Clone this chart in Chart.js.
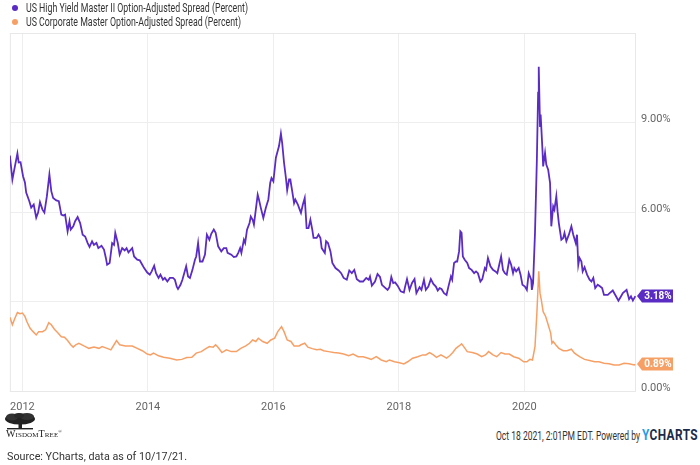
<!DOCTYPE html>
<html>
<head>
<meta charset="utf-8">
<script src="https://cdn.jsdelivr.net/npm/chart.js@4/dist/chart.umd.min.js"></script>
<style>
  body { margin: 0; background: #fff; }
  #wrap { position: relative; width: 700px; height: 465px; font-family: Roboto, sans-serif; }
  #chart { position: absolute; left: 0; top: 0; }
  .leg { position: absolute; left: 26px; font-size: 12px; color: #333; white-space: nowrap; line-height: 14px; transform-origin: left center; }
  .dot { position: absolute; left: 12px; width: 6px; height: 6px; border-radius: 50%; }
  .foot { position: absolute; white-space: nowrap; color: #333; }
</style>
</head>
<body>
<div id="wrap">
  <canvas id="chart" width="700" height="418"></canvas>
  <div class="dot" style="top:5px;background:#5b2cc4"></div>
  <div class="leg fit" data-w="222" style="top:1px">US High Yield Master II Option-Adjusted Spread (Percent)</div>
  <div class="dot" style="top:19px;background:#f7a066"></div>
  <div class="leg fit" data-w="215" style="top:15px">US Corporate Master Option-Adjusted Spread (Percent)</div>

  <svg class="foot" style="left:4px;top:413px" width="32" height="17" viewBox="0 0 32 17">
    <ellipse cx="16" cy="6" rx="15" ry="5.5" fill="#222"/>
    <ellipse cx="8" cy="4" rx="6" ry="3.5" fill="#333"/>
    <ellipse cx="23" cy="3.5" rx="7" ry="3.5" fill="#333"/>
    <ellipse cx="15" cy="2.5" rx="5" ry="2.5" fill="#2a2a2a"/>
    <rect x="14.5" y="8" width="3.5" height="7" fill="#222"/>
    <rect x="3" y="15" width="26" height="1.4" fill="#222"/>
  </svg>
  <div class="foot" style="left:6px;top:428px;font-family:'Liberation Serif',serif;font-size:10px;font-variant:small-caps;letter-spacing:0.1px;color:#222">WisdomTree<sup style="font-size:5px">®</sup></div>
  <div class="foot fit" data-w="144" style="left:496px;top:429px;font-size:12px;transform-origin:left center">Oct 18 2021, 2:01PM EDT. Powered by</div>
  <div class="foot fit" data-w="56" style="left:642px;top:426px;font-size:15px;font-weight:bold;letter-spacing:0.5px;color:#1b2a4a;transform-origin:left center"><span style="color:#1ea0e6">Y</span>CHARTS</div>
  <div class="foot fit" data-w="180" style="left:7px;top:450px;font-size:11px;transform-origin:left center">Source: YCharts, data as of 10/17/21.</div>
</div>

<script>
// US High Yield Master II OAS (percent)
const hyYears = [
  2011.80, 2011.84, 2011.88, 2011.92, 2011.94, 2011.97, 2012.01, 2012.04, 2012.06, 2012.11,
  2012.14, 2012.18, 2012.22, 2012.25, 2012.28, 2012.32, 2012.35, 2012.39, 2012.43, 2012.46,
  2012.49, 2012.54, 2012.58, 2012.62, 2012.65, 2012.68, 2012.72, 2012.75, 2012.77, 2012.81,
  2012.84, 2012.88, 2012.92, 2012.96, 2013.00, 2013.04, 2013.07, 2013.11, 2013.14, 2013.18,
  2013.21, 2013.26, 2013.30, 2013.33, 2013.35, 2013.39, 2013.43, 2013.46, 2013.48, 2013.52,
  2013.55, 2013.59, 2013.63, 2013.66, 2013.69, 2013.75, 2013.78, 2013.83, 2013.87, 2013.91,
  2013.94, 2013.99, 2014.03, 2014.06, 2014.10, 2014.13, 2014.17, 2014.20, 2014.24, 2014.27,
  2014.31, 2014.35, 2014.40, 2014.43, 2014.46, 2014.48, 2014.52, 2014.55, 2014.61, 2014.64,
  2014.67, 2014.71, 2014.75, 2014.77, 2014.80, 2014.83, 2014.87, 2014.91, 2014.94, 2014.98,
  2015.01, 2015.05, 2015.08, 2015.12, 2015.17, 2015.21, 2015.25, 2015.27, 2015.33, 2015.37,
  2015.41, 2015.44, 2015.47, 2015.49, 2015.53, 2015.55, 2015.58, 2015.62, 2015.64, 2015.67,
  2015.69, 2015.72, 2015.75, 2015.77, 2015.80, 2015.84, 2015.88, 2015.92, 2015.95, 2015.97,
  2016.00, 2016.04, 2016.06, 2016.09, 2016.12, 2016.14, 2016.17, 2016.20, 2016.22, 2016.25,
  2016.27, 2016.30, 2016.33, 2016.35, 2016.39, 2016.42, 2016.44, 2016.47, 2016.50, 2016.53,
  2016.56, 2016.59, 2016.62, 2016.64, 2016.69, 2016.72, 2016.75, 2016.77, 2016.82, 2016.84,
  2016.87, 2016.91, 2016.94, 2016.99, 2017.04, 2017.08, 2017.12, 2017.17, 2017.21, 2017.25,
  2017.29, 2017.33, 2017.38, 2017.43, 2017.48, 2017.52, 2017.54, 2017.57, 2017.62, 2017.66,
  2017.70, 2017.73, 2017.77, 2017.82, 2017.85, 2017.88, 2017.91, 2017.94, 2017.98, 2018.03,
  2018.08, 2018.10, 2018.13, 2018.17, 2018.21, 2018.25, 2018.28, 2018.33, 2018.36, 2018.40,
  2018.43, 2018.47, 2018.51, 2018.55, 2018.59, 2018.62, 2018.65, 2018.68, 2018.72, 2018.76,
  2018.79, 2018.83, 2018.85, 2018.88, 2018.91, 2018.93, 2018.96, 2018.98, 2019.00, 2019.02,
  2019.05, 2019.09, 2019.12, 2019.16, 2019.20, 2019.23, 2019.26, 2019.30, 2019.33, 2019.37,
  2019.39, 2019.42, 2019.46, 2019.50, 2019.54, 2019.57, 2019.60, 2019.63, 2019.66, 2019.69,
  2019.72, 2019.76, 2019.79, 2019.82, 2019.84, 2019.87, 2019.91, 2019.94, 2019.97, 2020.01,
  2020.04, 2020.07, 2020.11, 2020.12, 2020.14, 2020.17, 2020.20, 2020.22, 2020.23, 2020.25,
  2020.26, 2020.29, 2020.30, 2020.33, 2020.35, 2020.38, 2020.41, 2020.43, 2020.46, 2020.48,
  2020.51, 2020.53, 2020.55, 2020.59, 2020.62, 2020.64, 2020.67, 2020.71, 2020.75, 2020.78,
  2020.82, 2020.84, 2020.86, 2020.88, 2020.91, 2020.93, 2020.96, 2021.00, 2021.04, 2021.07,
  2021.10, 2021.13, 2021.17, 2021.21, 2021.24, 2021.27, 2021.33, 2021.36, 2021.41, 2021.45,
  2021.50, 2021.54, 2021.57, 2021.63, 2021.67, 2021.70, 2021.73, 2021.77
];
const hyValues = [
  7.89, 7.09, 7.53, 7.96, 7.66, 7.67, 7.20, 6.99, 6.65, 6.36,
  6.15, 6.25, 5.81, 5.98, 6.33, 6.08, 5.98, 6.53, 7.26, 6.70,
  6.47, 6.39, 6.36, 5.91, 5.88, 5.91, 5.35, 5.69, 5.41, 5.52,
  5.69, 5.83, 5.63, 5.24, 5.18, 4.96, 4.83, 5.02, 4.90, 4.96,
  4.79, 4.87, 4.74, 4.46, 4.23, 4.29, 4.96, 4.90, 5.30, 4.96,
  4.57, 4.79, 4.71, 4.79, 4.65, 4.79, 4.51, 4.40, 4.38, 4.23,
  4.12, 3.97, 3.90, 4.01, 4.20, 3.95, 3.79, 3.90, 3.73, 3.79,
  3.67, 3.79, 3.79, 3.73, 3.50, 3.42, 3.56, 3.73, 4.18, 3.84,
  3.79, 4.06, 4.40, 4.51, 4.96, 4.34, 4.34, 4.57, 5.24, 5.07,
  5.27, 5.41, 5.30, 4.85, 4.68, 4.79, 4.79, 4.63, 4.57, 4.49,
  4.51, 4.63, 4.79, 4.63, 5.07, 4.96, 5.41, 5.63, 5.85, 5.74,
  5.58, 6.08, 6.58, 6.42, 6.14, 5.80, 6.14, 6.42, 6.98, 7.14,
  7.03, 7.82, 7.98, 8.21, 8.63, 8.32, 7.65, 7.14, 6.73, 7.09,
  7.09, 6.70, 6.30, 6.42, 6.25, 6.08, 5.97, 6.25, 6.47, 5.46,
  5.46, 5.74, 5.41, 5.13, 5.13, 5.24, 5.13, 4.79, 4.63, 5.02,
  4.96, 4.68, 4.29, 4.12, 4.04, 3.95, 3.79, 3.73, 4.04, 3.95,
  4.06, 3.75, 3.67, 3.67, 3.79, 3.73, 3.84, 3.53, 3.67, 3.92,
  3.82, 3.56, 3.48, 3.39, 3.48, 3.82, 3.62, 3.64, 3.53, 3.34,
  3.30, 3.50, 3.75, 3.39, 3.62, 3.75, 3.28, 3.48, 3.39, 3.73,
  3.39, 3.50, 3.75, 3.59, 3.50, 3.37, 3.45, 3.42, 3.28, 3.22,
  3.50, 3.84, 3.73, 4.29, 4.34, 4.34, 4.68, 5.35, 5.30, 4.51,
  4.40, 4.29, 4.12, 4.06, 3.95, 4.01, 3.95, 3.67, 3.75, 4.12,
  4.06, 4.46, 4.18, 4.06, 4.01, 3.95, 4.23, 4.51, 4.06, 3.95,
  3.90, 4.40, 4.23, 3.95, 4.12, 4.01, 4.12, 3.90, 3.56, 3.50,
  3.39, 3.95, 3.73, 3.39, 3.62, 5.30, 7.76, 10.00, 10.87, 8.88,
  9.27, 8.04, 7.53, 7.98, 7.59, 7.42, 6.98, 5.52, 6.19, 6.08,
  6.53, 6.02, 5.63, 5.07, 5.13, 5.30, 5.02, 5.24, 5.52, 5.24,
  4.96, 5.24, 4.23, 4.46, 4.34, 4.01, 4.15, 3.90, 3.73, 3.67,
  3.79, 3.45, 3.56, 3.50, 3.45, 3.22, 3.22, 3.28, 3.37, 3.22,
  3.03, 3.17, 3.28, 3.39, 3.08, 3.17, 3.03, 3.18
];

// US Corporate Master OAS (percent)
const igYears = [
  2011.80, 2011.84, 2011.88, 2011.92, 2011.96, 2012.00, 2012.04, 2012.07, 2012.12, 2012.17,
  2012.22, 2012.26, 2012.32, 2012.37, 2012.42, 2012.46, 2012.51, 2012.56, 2012.62, 2012.67,
  2012.72, 2012.77, 2012.81, 2012.85, 2012.90, 2012.98, 2013.06, 2013.14, 2013.22, 2013.27,
  2013.35, 2013.41, 2013.46, 2013.50, 2013.55, 2013.64, 2013.75, 2013.83, 2013.91, 2013.99,
  2014.04, 2014.09, 2014.17, 2014.25, 2014.35, 2014.46, 2014.54, 2014.62, 2014.70, 2014.77,
  2014.85, 2014.93, 2014.98, 2015.04, 2015.08, 2015.12, 2015.18, 2015.25, 2015.33, 2015.41,
  2015.48, 2015.56, 2015.62, 2015.67, 2015.72, 2015.76, 2015.83, 2015.90, 2015.96, 2016.02,
  2016.07, 2016.13, 2016.17, 2016.22, 2016.28, 2016.33, 2016.41, 2016.44, 2016.50, 2016.55,
  2016.62, 2016.69, 2016.75, 2016.80, 2016.88, 2016.96, 2017.04, 2017.12, 2017.20, 2017.27,
  2017.35, 2017.43, 2017.51, 2017.56, 2017.64, 2017.72, 2017.80, 2017.85, 2017.93, 2018.01,
  2018.08, 2018.14, 2018.22, 2018.30, 2018.38, 2018.43, 2018.49, 2018.55, 2018.60, 2018.67,
  2018.72, 2018.76, 2018.81, 2018.86, 2018.91, 2018.96, 2019.00, 2019.04, 2019.09, 2019.17,
  2019.25, 2019.32, 2019.38, 2019.43, 2019.50, 2019.56, 2019.63, 2019.69, 2019.76, 2019.83,
  2019.91, 2019.99, 2020.04, 2020.09, 2020.13, 2020.17, 2020.20, 2020.23, 2020.25, 2020.27,
  2020.30, 2020.34, 2020.38, 2020.42, 2020.44, 2020.46, 2020.50, 2020.55, 2020.62, 2020.68,
  2020.75, 2020.80, 2020.88, 2020.96, 2021.04, 2021.12, 2021.19, 2021.27, 2021.35, 2021.43,
  2021.51, 2021.59, 2021.67, 2021.75, 2021.77
];
const igValues = [
  2.47, 2.22, 2.44, 2.63, 2.59, 2.61, 2.50, 2.33, 2.11, 1.99,
  1.88, 1.99, 1.99, 2.05, 2.29, 2.22, 2.07, 1.96, 1.82, 1.80,
  1.69, 1.55, 1.47, 1.55, 1.60, 1.51, 1.43, 1.47, 1.43, 1.49,
  1.43, 1.38, 1.55, 1.69, 1.55, 1.51, 1.51, 1.43, 1.35, 1.24,
  1.21, 1.27, 1.18, 1.13, 1.10, 1.04, 1.06, 1.12, 1.13, 1.27,
  1.32, 1.43, 1.49, 1.47, 1.55, 1.46, 1.29, 1.38, 1.32, 1.32,
  1.43, 1.51, 1.60, 1.71, 1.66, 1.77, 1.66, 1.60, 1.71, 1.77,
  1.99, 2.16, 1.99, 1.71, 1.66, 1.51, 1.51, 1.55, 1.60, 1.47,
  1.42, 1.38, 1.40, 1.35, 1.32, 1.29, 1.27, 1.24, 1.18, 1.24,
  1.15, 1.15, 1.10, 1.06, 1.15, 1.04, 0.98, 1.04, 0.98, 0.95,
  0.91, 0.98, 1.10, 1.15, 1.21, 1.21, 1.29, 1.21, 1.13, 1.21,
  1.15, 1.10, 1.18, 1.29, 1.43, 1.51, 1.58, 1.47, 1.32, 1.29,
  1.24, 1.15, 1.21, 1.32, 1.21, 1.15, 1.29, 1.24, 1.24, 1.15,
  1.10, 0.98, 0.98, 1.06, 1.04, 1.49, 2.61, 4.01, 3.28, 3.06,
  2.66, 2.50, 2.22, 1.94, 1.60, 1.66, 1.55, 1.43, 1.35, 1.35,
  1.40, 1.27, 1.15, 1.06, 1.02, 0.98, 0.98, 0.93, 0.91, 0.87,
  0.87, 0.93, 0.91, 0.87, 0.89
];

const yearTicks = [2012, 2014, 2016, 2018, 2020];
const pctTicks = [0, 3, 6, 9, 12];

const purple = '#5b2cc4';
const orange = '#f7a066';
const tickFont = { family: 'Roboto, sans-serif', size: 11 };

const toPoints = (xs, ys) => xs.map((x, i) => ({ x: x, y: ys[i] }));

// squeeze html text to the condensed widths of the original
document.querySelectorAll('.fit').forEach(el => {
  const w = el.getBoundingClientRect().width;
  el.style.transform = 'scaleX(' + (el.dataset.w / w) + ')';
});

// light frame round the plot area
const plotFrame = {
  id: 'plotFrame',
  beforeDatasetsDraw(chart) {
    const { ctx, chartArea: a } = chart;
    ctx.save();
    ctx.strokeStyle = '#e8e8e8';
    ctx.lineWidth = 1;
    ctx.strokeRect(a.left + 0.5, a.top + 0.5, a.right - a.left - 1, a.bottom - a.top);
    ctx.restore();
  }
};

// last-value tags on the right axis
const lastTags = {
  id: 'lastTags',
  afterDatasetsDraw(chart) {
    const { ctx, chartArea: a, scales } = chart;
    chart.data.datasets.forEach(ds => {
      const last = ds.data[ds.data.length - 1];
      const y = Math.round(scales.y.getPixelForValue(last.y));
      const x0 = a.right + 1, x1 = a.right + 6, x2 = a.right + 37, h = 6.5;
      ctx.save();
      ctx.fillStyle = ds.borderColor;
      ctx.beginPath();
      ctx.moveTo(x0, y);
      ctx.lineTo(x1, y - h);
      ctx.lineTo(x2, y - h);
      ctx.lineTo(x2, y + h);
      ctx.lineTo(x1, y + h);
      ctx.closePath();
      ctx.fill();
      ctx.fillStyle = '#fff';
      ctx.font = 'bold 10px Roboto, sans-serif';
      ctx.textAlign = 'center';
      ctx.textBaseline = 'middle';
      ctx.fillText(last.y.toFixed(2) + '%', (x1 + x2) / 2 + 0.5, y + 0.5);
      ctx.restore();
    });
  }
};

new Chart(document.getElementById('chart').getContext('2d'), {
  type: 'line',
  data: {
    datasets: [
      {
        label: 'US High Yield Master II Option-Adjusted Spread (Percent)',
        data: toPoints(hyYears, hyValues),
        borderColor: purple,
        borderWidth: 1.8,
        pointRadius: 0,
        tension: 0
      },
      {
        label: 'US Corporate Master Option-Adjusted Spread (Percent)',
        data: toPoints(igYears, igValues),
        borderColor: orange,
        borderWidth: 1.5,
        pointRadius: 0,
        tension: 0
      }
    ]
  },
  options: {
    responsive: false,
    animation: false,
    devicePixelRatio: 1,
    layout: { padding: { top: 33, left: 3, right: 0, bottom: 0 } },
    plugins: { legend: { display: false }, tooltip: { enabled: false } },
    scales: {
      x: {
        type: 'linear',
        min: 2011.8,
        max: 2021.78,
        afterBuildTicks: s => { s.ticks = yearTicks.map(v => ({ value: v })); },
        afterFit: s => { s.height = 27; },
        grid: { color: '#eeeeee', drawTicks: false },
        border: { display: false },
        ticks: { callback: v => String(v), color: '#666', font: tickFont, padding: 10, maxRotation: 0, autoSkip: false }
      },
      y: {
        position: 'right',
        min: 0,
        max: 12,
        afterBuildTicks: s => { s.ticks = pctTicks.map(v => ({ value: v })); },
        afterFit: s => { s.width = 64; },
        grid: { color: '#eeeeee', drawTicks: false },
        border: { display: false },
        ticks: {
          callback: v => (v === 12 ? '' : v.toFixed(2) + '%'),
          color: '#666',
          font: tickFont,
          padding: 5,
          labelOffset: -3
        }
      }
    }
  },
  plugins: [plotFrame, lastTags]
});
</script>
</body>
</html>
